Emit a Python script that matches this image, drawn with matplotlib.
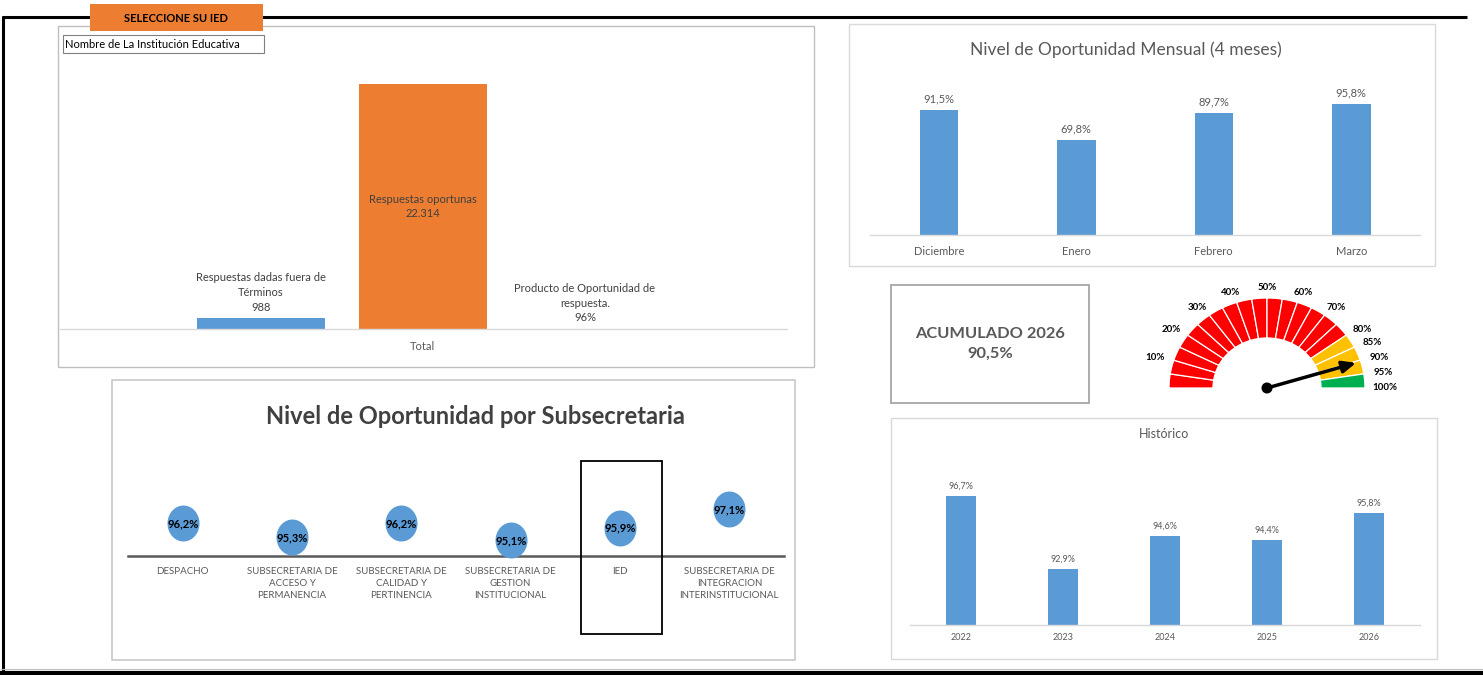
import matplotlib.pyplot as plt
import matplotlib.patches as mpatches
from matplotlib.lines import Line2D
from matplotlib.path import Path
import numpy as np

plt.rcParams['font.family'] = ['Lato', 'DejaVu Sans']

W, H = 1483, 675

# ---- data ----
total_labels = ['Respuestas dadas fuera de\nTérminos', 'Respuestas oportunas',
                'Producto de Oportunidad de\nrespuesta.']
total_values = [988, 22314, 0.96]
total_text = ['988', '22.314', '96%']
total_colors = ['#5B9BD5', '#ED7D31', '#A5A5A5']

meses = ['Diciembre', 'Enero', 'Febrero', 'Marzo']
mensual = [91.5, 69.8, 89.7, 95.8]

subsec = ['DESPACHO', 'SUBSECRETARIA DE\nACCESO Y\nPERMANENCIA',
          'SUBSECRETARIA DE\nCALIDAD Y\nPERTINENCIA',
          'SUBSECRETARIA DE\nGESTION\nINSTITUCIONAL', 'IED',
          'SUBSECRETARIA DE\nINTEGRACION\nINTERINSTITUCIONAL']
subsec_vals = [96.2, 95.3, 96.2, 95.1, 95.9, 97.1]

anios = ['2022', '2023', '2024', '2025', '2026']
historico = [96.7, 92.9, 94.6, 94.4, 95.8]

acumulado = 90.5
gauge_edges = [0, 5, 10, 15, 20, 25, 30, 35, 40, 45, 50, 55, 60, 65, 70, 75, 80, 85, 90, 95, 100]
gauge_ticks = [10, 20, 30, 40, 50, 60, 70, 80, 85, 90, 95, 100]

BLUE = '#5B9BD5'
GRAY_TXT = '#595959'


def pct(v):
    return f"{v:.1f}%".replace('.', ',')


fig = plt.figure(figsize=(W / 100, H / 100), dpi=100)


def px_axes(x0, y0, x1, y1, z=5):
    ax = fig.add_axes([x0 / W, 1 - y1 / H, (x1 - x0) / W, (y1 - y0) / H], zorder=z)
    ax.set_facecolor('none')
    return ax


def clean(ax, base_color='#D9D9D9', base_lw=1):
    for s in ['top', 'right', 'left']:
        ax.spines[s].set_visible(False)
    ax.spines['bottom'].set_color(base_color)
    ax.spines['bottom'].set_linewidth(base_lw)
    ax.set_yticks([])
    ax.tick_params(axis='x', length=0)


def fig_line(xs, ys, **kw):
    fig.add_artist(Line2D([x / W for x in xs], [1 - y / H for y in ys],
                          transform=fig.transFigure, solid_capstyle='butt', **kw))


back = fig.add_axes([0, 0, 1, 1], zorder=0)
back.set_xlim(0, W); back.set_ylim(H, 0); back.axis('off')
front = fig.add_axes([0, 0, 1, 1], zorder=10)
front.set_xlim(0, W); front.set_ylim(H, 0); front.axis('off')
front.patch.set_alpha(0)


def box(ax, x0, y0, x1, y1, ec='#D9D9D9', lw=1, fc='white'):
    ax.add_patch(mpatches.Rectangle((x0, y0), x1 - x0, y1 - y0, fc=fc, ec=ec, lw=lw))


# frame
fig_line([2, 1467], [17, 17], color='black', lw=2.2)
fig_line([3, 3], [16, 673], color='black', lw=2.2)
fig_line([0, W], [672.5, 672.5], color='black', lw=3)
fig_line([0, W], [668.5, 668.5], color='#BFBFBF', lw=0.8)

# panels
box(back, 58, 26, 814, 367, ec='#BFBFBF')
box(back, 849, 24, 1435, 266)
box(back, 891, 285, 1089, 403, ec='#A6A6A6', lw=1.3)
box(back, 112, 380, 795, 660, ec='#C8C8C8', lw=1.2)
box(back, 891, 418, 1437, 659)

# header label
box(front, 90, 4, 263, 31, ec='none', fc='#ED7D31')
front.text(176, 18, 'SELECCIONE SU IED', ha='center', va='center', fontsize=8,
           fontweight='bold', color='black')
box(front, 63, 35, 264, 53, ec='#808080', lw=0.8)
front.text(65, 44.5, 'Nombre de La Institución Educativa', ha='left', va='center',
           fontsize=8, color='black')

# ---- Total chart ----
ax1 = px_axes(60, 70, 787, 329)
x1 = np.arange(len(total_values))
ax1.bar(x1, total_values, width=0.79, color=total_colors)
ax1.set_xlim(-1.24, 3.247)
ax1.set_ylim(0, 23590)
clean(ax1)
ax1.set_xticks([1])
ax1.set_xticklabels(['Total'], fontsize=8, color=GRAY_TXT)
ax1.tick_params(axis='x', pad=9)
for i, (lab, v, t) in enumerate(zip(total_labels, total_values, total_text)):
    if v == max(total_values):
        ax1.text(i, v / 2, f"{lab}\n{t}", ha='center', va='center', fontsize=8,
                 color='#404040', linespacing=1.4)
    else:
        ax1.annotate(f"{lab}\n{t}", (i, v), xytext=(0, 4), textcoords='offset points',
                     ha='center', va='bottom', fontsize=8, color='#404040',
                     linespacing=1.4)

# ---- Mensual ----
front.text(1126, 50, 'Nivel de Oportunidad Mensual (4 meses)', ha='center', va='center',
           fontsize=12.5, color=GRAY_TXT)
ax2 = px_axes(870, 80, 1420, 235)
x2 = np.arange(len(mensual))
ax2.bar(x2, mensual, width=0.28, color=BLUE)
ax2.set_xlim(-0.5, len(mensual) - 0.5)
ax2.set_ylim(0, 113.5)
clean(ax2)
ax2.set_xticks(x2)
ax2.set_xticklabels(meses, fontsize=8, color=GRAY_TXT)
ax2.tick_params(axis='x', pad=8)
for i, v in enumerate(mensual):
    ax2.annotate(pct(v), (i, v), xytext=(0, 4), textcoords='offset points',
                 ha='center', va='bottom', fontsize=8, color=GRAY_TXT)

# ---- Acumulado ----
front.text(990, 344, f"ACUMULADO 2026\n{pct(acumulado)}", ha='center', va='center',
           fontsize=11.8, fontweight='bold', color=GRAY_TXT, linespacing=1.5)

# ---- Gauge ----
cx, cy = 1267, 388
rx_o, ry_o, rx_i, ry_i = 98, 90, 54, 50
for a, b in zip(gauge_edges[:-1], gauge_edges[1:]):
    col = '#FF0000' if b <= 80 else ('#FFC000' if b <= 95 else '#00B050')
    t = np.radians(np.linspace(180 - 1.8 * a, 180 - 1.8 * b, 20))
    xs = np.concatenate([cx + rx_o * np.cos(t), cx + rx_i * np.cos(t[::-1])])
    ys = np.concatenate([cy - ry_o * np.sin(t), cy - ry_i * np.sin(t[::-1])])
    front.add_patch(mpatches.Polygon(np.c_[xs, ys], closed=True, fc=col, ec='white', lw=0.9))
for v in gauge_ticks:
    t = np.radians(180 - 1.8 * v)
    front.text(cx + 118 * np.cos(t), cy - 100 * np.sin(t), f"{v}%", ha='center',
               va='center', fontsize=7, fontweight='bold', color='black')
tn = np.radians(180 - 1.8 * acumulado)
front.annotate('', xy=(cx + 96 * np.cos(tn), cy - 88 * np.sin(tn)), xytext=(cx, cy),
               arrowprops=dict(arrowstyle='-|>,head_length=0.8,head_width=0.35',
                               color='black', lw=2.5))
front.add_patch(mpatches.Ellipse((cx, cy), 11, 11, fc='black', ec='none'))

# ---- Subsecretaria ----
front.text(475, 416, 'Nivel de Oportunidad por Subsecretaria', ha='center', va='center',
           fontsize=17, fontweight='bold', color='#404040')
ax3 = px_axes(128, 445, 784, 556)
x3 = np.arange(len(subsec_vals))
th = np.linspace(0, 2 * np.pi, 60)
oval = Path(np.c_[0.89 * np.cos(th), np.sin(th)], closed=True)
ax3.scatter(x3, subsec_vals, s=670, marker=oval, color=BLUE, zorder=3, clip_on=False,
            linewidths=0)
for i, v in enumerate(subsec_vals):
    ax3.text(i, v, pct(v), ha='center', va='center', fontsize=8, fontweight='bold',
             color='black', zorder=4)
ax3.set_xlim(-0.5, len(subsec_vals) - 0.5)
ax3.set_ylim(94.1, 101.26)
clean(ax3, base_color='#595959', base_lw=1.8)
ax3.set_xticks(x3)
ax3.set_xticklabels(subsec, fontsize=7, color=GRAY_TXT, linespacing=1.45, va='top')
ax3.tick_params(axis='x', pad=8)
box(front, 581, 461, 662, 634, ec='black', lw=1.3, fc='none')

# ---- Historico ----
front.text(1164, 434, 'Histórico', ha='center', va='center', fontsize=9, color=GRAY_TXT)
ax4 = px_axes(910, 471, 1420, 625)
x4 = np.arange(len(historico))
ax4.bar(x4, historico, width=0.30, color=BLUE)
ax4.set_xlim(-0.5, len(historico) - 0.5)
ax4.set_ylim(90, 98)
clean(ax4)
ax4.set_xticks(x4)
ax4.set_xticklabels(anios, fontsize=6.5, color=GRAY_TXT)
ax4.tick_params(axis='x', pad=6)
for i, v in enumerate(historico):
    ax4.annotate(pct(v), (i, v), xytext=(0, 4), textcoords='offset points',
                 ha='center', va='bottom', fontsize=6.5, color=GRAY_TXT)

fig.savefig('out.png', dpi=100)
